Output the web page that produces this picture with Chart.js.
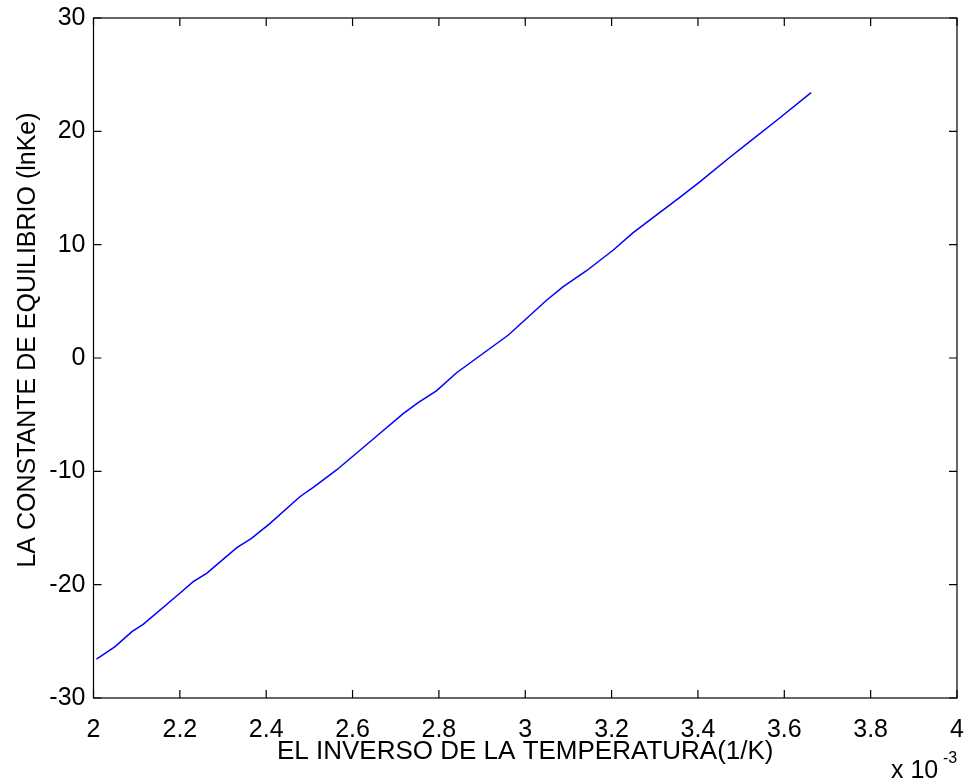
<!DOCTYPE html>
<html>
<head>
<meta charset="utf-8">
<script src="https://cdn.jsdelivr.net/npm/chart.js@4"></script>
<style>
    html, body { margin: 0; padding: 0; background: #fff; }
    #wrap { width: 968px; height: 784px; }
</style>
</head>
<body>
<div id="wrap"><canvas id="keChart" width="968" height="784"></canvas></div>
<script>
// 1/T in units of 10^-3 K^-1
const invTemp = [
    2.007, 2.050, 2.089, 2.115, 2.200, 2.231, 2.262, 2.332, 2.366, 2.409,
    2.478, 2.509, 2.563, 2.661, 2.718, 2.752, 2.795, 2.841, 2.961, 3.050,
    3.088, 3.142, 3.204, 3.250, 3.358, 3.405, 3.474, 3.525, 3.590, 3.662
];
const lnKe = [
    -26.56, -25.47, -24.15, -23.50, -20.76, -19.74, -19.00, -16.74, -15.91, -14.59,
    -12.24, -11.41, -9.88, -6.73, -4.88, -3.94, -2.88, -1.30, 2.03, 5.12,
    6.29, 7.70, 9.53, 11.06, 14.18, 15.56, 17.71, 19.24, 21.20, 23.41
];
const xTickStep = 0.2;
const yTicks = [-30, -20, -10, 0, 10, 20, 30];

const yTitle = "LA CONSTANTE DE EQUILIBRIO (lnKe)";
const fontFamily = "'Liberation Sans', Arial, sans-serif";

// matlab style box with inward ticks, y label and the x10^-3 multiplier
const matlabAxes = {
    id: "matlabAxes",
    afterDraw(chart) {
        const { ctx, chartArea: a, scales: { x, y } } = chart;
        const len = 8;
        ctx.save();
        ctx.strokeStyle = "#000";
        ctx.lineWidth = 1.2;
        ctx.strokeRect(a.left, a.top, a.right - a.left, a.bottom - a.top);
        ctx.beginPath();
        x.ticks.forEach(t => {
            const px = x.getPixelForValue(t.value);
            ctx.moveTo(px, a.bottom); ctx.lineTo(px, a.bottom - len);
            ctx.moveTo(px, a.top); ctx.lineTo(px, a.top + len);
        });
        y.ticks.forEach(t => {
            const py = y.getPixelForValue(t.value);
            ctx.moveTo(a.left, py); ctx.lineTo(a.left + len, py);
            ctx.moveTo(a.right, py); ctx.lineTo(a.right - len, py);
        });
        ctx.stroke();

        ctx.fillStyle = "#000";
        ctx.textBaseline = "alphabetic";
        ctx.textAlign = "left";
        ctx.font = "25px " + fontFamily;
        ctx.fillText("x 10", 891, 778);
        ctx.font = "16px " + fontFamily;
        ctx.fillText("-3", 943, 763);

        // y label sits a bit above the centre of the axis, like the original
        ctx.translate(35, 340);
        ctx.rotate(-Math.PI / 2);
        ctx.textAlign = "center";
        ctx.font = "25px " + fontFamily;
        ctx.fillText(yTitle, 0, 0);
        ctx.restore();
    }
};

new Chart(document.getElementById("keChart"), {
    type: "line",
    data: {
        datasets: [{
            data: invTemp.map((v, i) => ({ x: v, y: lnKe[i] })),
            borderColor: "#0000ff",
            borderWidth: 1.5,
            pointRadius: 0,
            tension: 0,
            fill: false
        }]
    },
    options: {
        responsive: false,
        animation: false,
        layout: { padding: { top: 18, right: 11, left: 0, bottom: 0 } },
        plugins: {
            legend: { display: false },
            tooltip: { enabled: false }
        },
        scales: {
            x: {
                type: "linear",
                min: 2,
                max: 4,
                afterFit: s => {
                    s.height = 86;
                    s.paddingLeft = 0;
                    s.paddingRight = 0;
                },
                grid: { display: false, drawTicks: false },
                border: { display: false },
                ticks: {
                    stepSize: xTickStep,
                    padding: 17,
                    color: "#000",
                    font: { family: fontFamily, size: 25 },
                    maxRotation: 0,
                    callback: v => String(+v.toFixed(1))
                },
                title: {
                    display: true,
                    text: "EL INVERSO DE LA TEMPERATURA(1/K)",
                    color: "#000",
                    font: { family: fontFamily, size: 26 },
                    padding: { bottom: 17 }
                }
            },
            y: {
                min: -30,
                max: 30,
                afterFit: s => {
                    s.width = 93.5;
                    s.paddingTop = 0;
                    s.paddingBottom = 0;
                },
                afterBuildTicks: s => { s.ticks = yTicks.map(v => ({ value: v })); },
                grid: { display: false, drawTicks: false },
                border: { display: false },
                ticks: {
                    padding: 8,
                    color: "#000",
                    font: { family: fontFamily, size: 25 }
                },
                title: { display: false }
            }
        }
    },
    plugins: [matlabAxes]
});
</script>
</body>
</html>
